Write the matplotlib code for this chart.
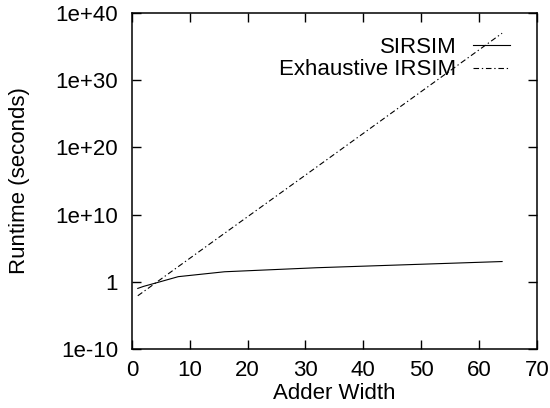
import matplotlib
matplotlib.use("Agg")
import matplotlib.pyplot as plt
from matplotlib.ticker import NullLocator

plt.rcParams['font.family'] = ['Liberation Sans', 'DejaVu Sans']

# adder widths and runtimes
widths = [1, 2, 4, 8, 16, 32, 64]
sirsim = [0.1, 0.2, 0.6, 5.6, 30, 120, 1000]
exhaustive = [0.008, 0.033, 0.58, 175, 1.6e7, 1.3e17, 1e37]

yticks = [1e-10, 1, 1e10, 1e20, 1e30, 1e40]
ytick_labels = ["1e-10", "1", "1e+10", "1e+20", "1e+30", "1e+40"]
xticks = [0, 10, 20, 30, 40, 50, 60, 70]

fs = 16

fig = plt.figure(figsize=(5.5, 4.08), dpi=100)
ax = fig.add_axes([0.24, 0.145, 0.736, 0.823])

ax.plot(widths, sirsim, color='black', lw=0.8, label="SIRSIM")
ax.plot(widths, exhaustive, color='black', lw=0.8, dashes=(5, 2.5, 1.2, 2.5),
        label="Exhaustive IRSIM")

ax.set_yscale('log')
ax.set_xlim(0, 70)
ax.set_ylim(1e-10, 1e40)
ax.set_xticks(xticks)
ax.set_yticks(yticks)
ax.set_yticklabels(ytick_labels)
ax.yaxis.set_minor_locator(NullLocator())
ax.xaxis.set_minor_locator(NullLocator())

ax.tick_params(direction='in', length=6.5, width=1.0, labelsize=fs,
               top=True, right=True)
ax.tick_params(axis='y', pad=10)
ax.tick_params(axis='x', pad=8)
for s in ax.spines.values():
    s.set_linewidth(1.1)

ax.set_xlabel("Adder Width", fontsize=fs, labelpad=1.5)
ax.set_ylabel("Runtime (seconds)", fontsize=fs, labelpad=18)

ax.legend(loc='upper right', frameon=False, markerfirst=False, fontsize=fs,
          handlelength=1.67, handletextpad=0.72, labelspacing=0.05,
          borderaxespad=0, borderpad=0, bbox_to_anchor=(0.933, 0.928))

fig.savefig("out.png", dpi=100)
